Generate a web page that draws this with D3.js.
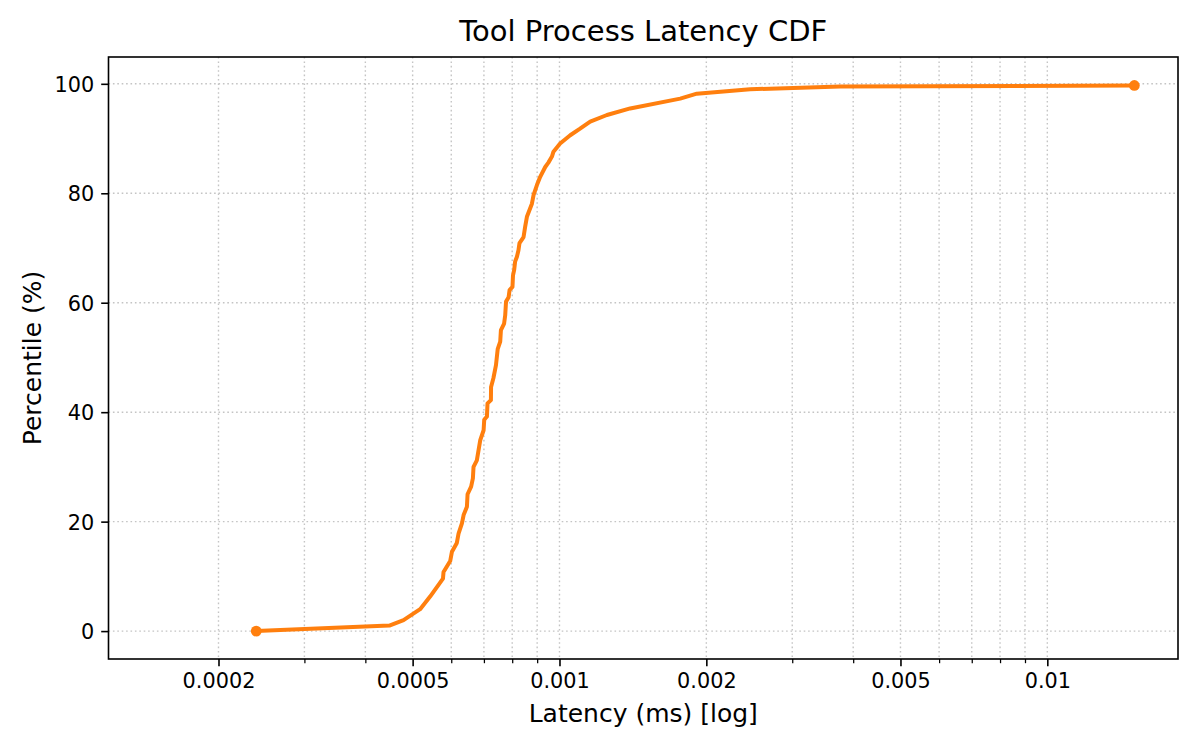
<!DOCTYPE html>
<html>
<head>
<meta charset="utf-8">
<script src="https://cdn.jsdelivr.net/npm/d3@7"></script>
<style>
  html, body { margin: 0; padding: 0; background: #fff; }
  svg text { font-family: "DejaVu Sans", sans-serif; fill: #000; }
</style>
</head>
<body>
<svg id="chart" width="1200" height="750"></svg>
<script>
// CDF samples (latency in ms, percentile in %)
const latencyMs = [
  0.000239, 0.000448, 0.000479, 0.000518, 0.000543, 0.000577, 0.0005785, 0.000597,
  0.000602, 0.000616, 0.000621, 0.000631, 0.000636, 0.000646, 0.000648, 0.000659,
  0.0006645, 0.0006665, 0.000677, 0.000688, 0.000699, 0.000701, 0.000710, 0.000712,
  0.0007235, 0.000724, 0.000732, 0.000741, 0.000747, 0.000756, 0.0007585, 0.000770,
  0.000774, 0.000777, 0.0007865, 0.000790, 0.000801, 0.000803, 0.0008075, 0.000811,
  0.000818, 0.000824, 0.000828, 0.000844, 0.0008505, 0.0008575, 0.000878, 0.000885,
  0.000899, 0.000913, 0.000935, 0.000949, 0.000965, 0.000972, 0.001003, 0.001052,
  0.001102, 0.001156, 0.001251, 0.001396, 0.001768, 0.001912, 0.002459, 0.00376,
  0.01508
];
const percentile = [
  0, 1.0, 2.0, 4.0, 6.3, 9.6, 10.8, 12.8,
  14.5, 16.1, 17.8, 19.7, 21.2, 22.7, 25.0, 26.4,
  27.9, 30.0, 31.2, 34.9, 36.7, 38.6, 39.2, 41.6,
  42.2, 44.6, 46.2, 48.6, 51.5, 52.9, 55.0, 56.2,
  57.7, 60.2, 61.0, 62.3, 62.9, 65.0, 66.0, 67.5,
  68.4, 69.6, 70.9, 72.0, 73.9, 75.7, 78.1, 79.7,
  81.5, 83.0, 84.8, 85.6, 86.7, 87.6, 89.1, 90.6,
  91.8, 93.1, 94.3, 95.5, 97.3, 98.2, 99.0, 99.5,
  99.7
];
const xMajorTicks = [0.0002, 0.0005, 0.001, 0.002, 0.005, 0.01];
const xTickLabels = ["0.0002", "0.0005", "0.001", "0.002", "0.005", "0.01"];
const yTicks = [0, 20, 40, 60, 80, 100];

const svg = d3.select('#chart');
const margin = { left: 108.5, right: 22, top: 57, bottom: 91 };
const W = 1200, H = 750;
const plotW = W - margin.left - margin.right;
const plotH = H - margin.top - margin.bottom;

const x = d3.scaleLog().domain([0.000119, 0.01853]).range([0, plotW]);
const y = d3.scaleLinear().domain([-5.1, 104.9]).range([plotH, 0]);

// minor ticks: every 1..9 x decade inside the domain
const xMinorTicks = x.ticks(20).filter(t => !xMajorTicks.some(m => Math.abs(m - t) / m < 1e-6));
const allXTicks = x.ticks(20);

const g = svg.append('g').attr('transform', `translate(${margin.left},${margin.top})`);

// grid
const grid = g.append('g').attr('class', 'grid')
  .attr('stroke', '#c4c4c4').attr('stroke-width', 1.4).attr('stroke-dasharray', '1.6,2.8');
grid.selectAll('line.vx').data(allXTicks).enter().append('line')
  .attr('x1', d => x(d)).attr('x2', d => x(d)).attr('y1', 0).attr('y2', plotH);
grid.selectAll('line.hy').data(yTicks).enter().append('line')
  .attr('x1', 0).attr('x2', plotW).attr('y1', d => y(d)).attr('y2', d => y(d));

// line + end markers
const line = d3.line().x(d => x(d[0])).y(d => y(d[1]));
const pts = latencyMs.map((v, i) => [v, percentile[i]]);
g.append('path').datum(pts)
  .attr('fill', 'none').attr('stroke', '#ff7f0e').attr('stroke-width', 4)
  .attr('stroke-linejoin', 'round').attr('stroke-linecap', 'butt')
  .attr('d', line);
g.selectAll('circle.end').data([pts[0], pts[pts.length - 1]]).enter().append('circle')
  .attr('cx', d => x(d[0])).attr('cy', d => y(d[1])).attr('r', 5.4).attr('fill', '#ff7f0e');

// axes
const xAxis = d3.axisBottom(x).tickValues(xMajorTicks)
  .tickFormat((d, i) => xTickLabels[i]).tickSize(7.3).tickPadding(7);
const xMinor = d3.axisBottom(x).tickValues(xMinorTicks).tickFormat('').tickSize(4.2);
const yAxis = d3.axisLeft(y).tickValues(yTicks).tickSize(7.3).tickPadding(7);

const gx = g.append('g').attr('transform', `translate(0,${plotH})`).call(xAxis);
const gxm = g.append('g').attr('transform', `translate(0,${plotH})`).call(xMinor);
const gy = g.append('g').call(yAxis);

[gx, gxm, gy].forEach(a => {
  a.select('.domain').remove();
  a.selectAll('.tick line').attr('stroke', '#000').attr('stroke-width', 1.6);
  a.selectAll('.tick text').attr('font-size', 20.8).attr('font-family', '"DejaVu Sans", sans-serif').attr('fill', '#000');
});
gxm.selectAll('.tick line').attr('stroke-width', 1.25);
gy.selectAll('.tick text').attr('dy', '0.36em');

// frame
g.append('rect').attr('x', 0).attr('y', 0).attr('width', plotW).attr('height', plotH)
  .attr('fill', 'none').attr('stroke', '#000').attr('stroke-width', 1.6);

// labels
svg.append('text').attr('x', margin.left + plotW / 2).attr('y', 41)
  .attr('text-anchor', 'middle').attr('font-size', 29).text('Tool Process Latency CDF');
svg.append('text').attr('x', margin.left + plotW / 2).attr('y', 722)
  .attr('text-anchor', 'middle').attr('font-size', 25).text('Latency (ms) [log]');
svg.append('text').attr('transform', `translate(41,${margin.top + plotH / 2}) rotate(-90)`)
  .attr('text-anchor', 'middle').attr('font-size', 25).text('Percentile (%)');
</script>
</body>
</html>
